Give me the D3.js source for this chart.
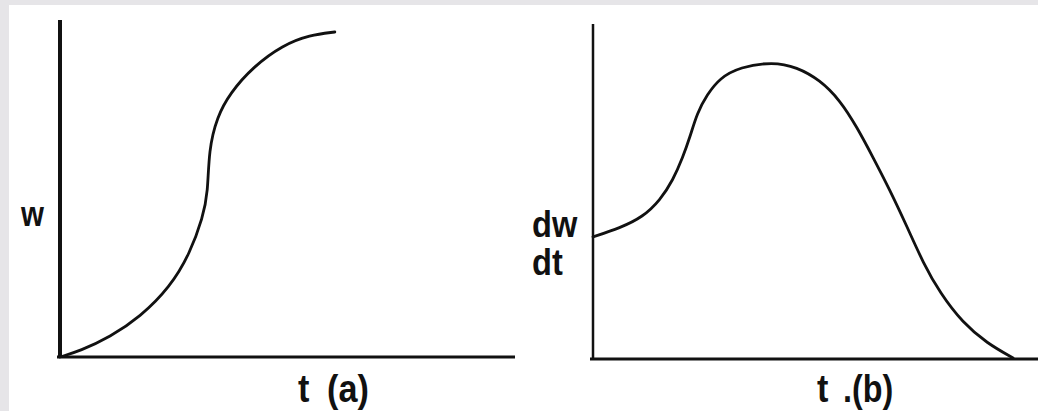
<!DOCTYPE html>
<html>
<head>
<meta charset="utf-8">
<script src="https://cdn.jsdelivr.net/npm/d3@7"></script>
<style>
  html, body { margin: 0; padding: 0; background: #e6e5e8; }
  svg { display: block; }
  text { font-family: "Liberation Sans", Arial, sans-serif; fill: #111; }
</style>
</head>
<body>
<script>
const width = 1038;
const height = 411;

// panel (a): w against t, s-shaped growth curve
const tA = [0, 4.4, 11, 17.6, 24.2, 28.6, 31.4, 32.5, 32.7, 34.5, 37.4, 42.4, 49, 54.9, 60.4];
const wA = [0, 1.8, 6, 12, 21, 31.2, 42, 49.2, 62.2, 72.1, 79.3, 87.1, 93.7, 96.7, 97.6];

// panel (b): dw/dt against t, bell-shaped rate curve
const tB = [0, 6.1, 11.2, 15.1, 18, 20.2, 21.8, 23.4, 25.6, 28.5, 33, 40.4, 45.8, 51, 55.5, 59.3, 62.9, 66.7, 70.6, 74.2, 78, 83.1, 88.5, 94.4];
const rB = [36.9, 39.6, 42.9, 48, 54.1, 61, 67.1, 74.3, 79.8, 84.9, 88.2, 89.8, 88.2, 84.3, 78.2, 70.1, 61, 51.1, 39.9, 29, 19.9, 10.9, 4.8, 0.3];

const svg = d3.select('body').append('svg')
  .attr('width', width)
  .attr('height', height)

// white sheet, grey strip left and top
svg.append('rect')
  .attr('x', 9).attr('y', 5)
  .attr('width', width - 9).attr('height', height - 5)
  .attr('fill', '#ffffff')

const drawPanel = (opts) => {
  const x = d3.scaleLinear().domain([0, 100]).range([opts.x0, opts.x1]);
  const y = d3.scaleLinear().domain([0, 100]).range([opts.y0, opts.y1]);
  const g = svg.append('g');

  // axes: plain lines, no ticks
  g.append('line')
    .attr('x1', x(0)).attr('x2', x(0))
    .attr('y1', y(0) + 1).attr('y2', y(100) - 4)
    .attr('stroke', '#111').attr('stroke-width', opts.axisW)
  g.append('line')
    .attr('x1', x(0) - 3).attr('x2', x(100))
    .attr('y1', y(0)).attr('y2', y(0))
    .attr('stroke', '#111').attr('stroke-width', 3)

  const pts = opts.xs.map((v, i) => [v, opts.ys[i]]);
  const line = d3.line()
    .x(d => x(d[0]))
    .y(d => y(d[1]))
    .curve(d3.curveBasis);

  g.append('path')
    .datum(pts)
    .attr('d', line)
    .attr('fill', 'none')
    .attr('stroke', '#111')
    .attr('stroke-width', 2.8)
    .attr('stroke-linecap', 'round')
  return g;
};

drawPanel({ x0: 60, x1: 515, y0: 357, y1: 24, xs: tA, ys: wA, axisW: 4 });
drawPanel({ x0: 593, x1: 1038, y0: 359, y1: 28, xs: tB, ys: rB, axisW: 2.5 });

const label = (txt, px, py, size, sx) => {
  svg.append('text')
    .attr('transform', 'translate(' + px + ',' + py + ') scale(' + sx + ',1)')
    .attr('font-size', size)
    .attr('font-weight', 'bold')
    .text(txt)
};

label('w', 21, 226, 36, 0.82);
label('dw', 532, 237, 37, 0.88);
label('dt', 532, 275, 37, 0.88);
label('t', 298, 402, 38, 0.9);
label('(a)', 327, 402, 38, 0.9);
label('t', 817, 402, 38, 0.9);
label('.(b)', 843, 402, 38, 0.85);
</script>
</body>
</html>
